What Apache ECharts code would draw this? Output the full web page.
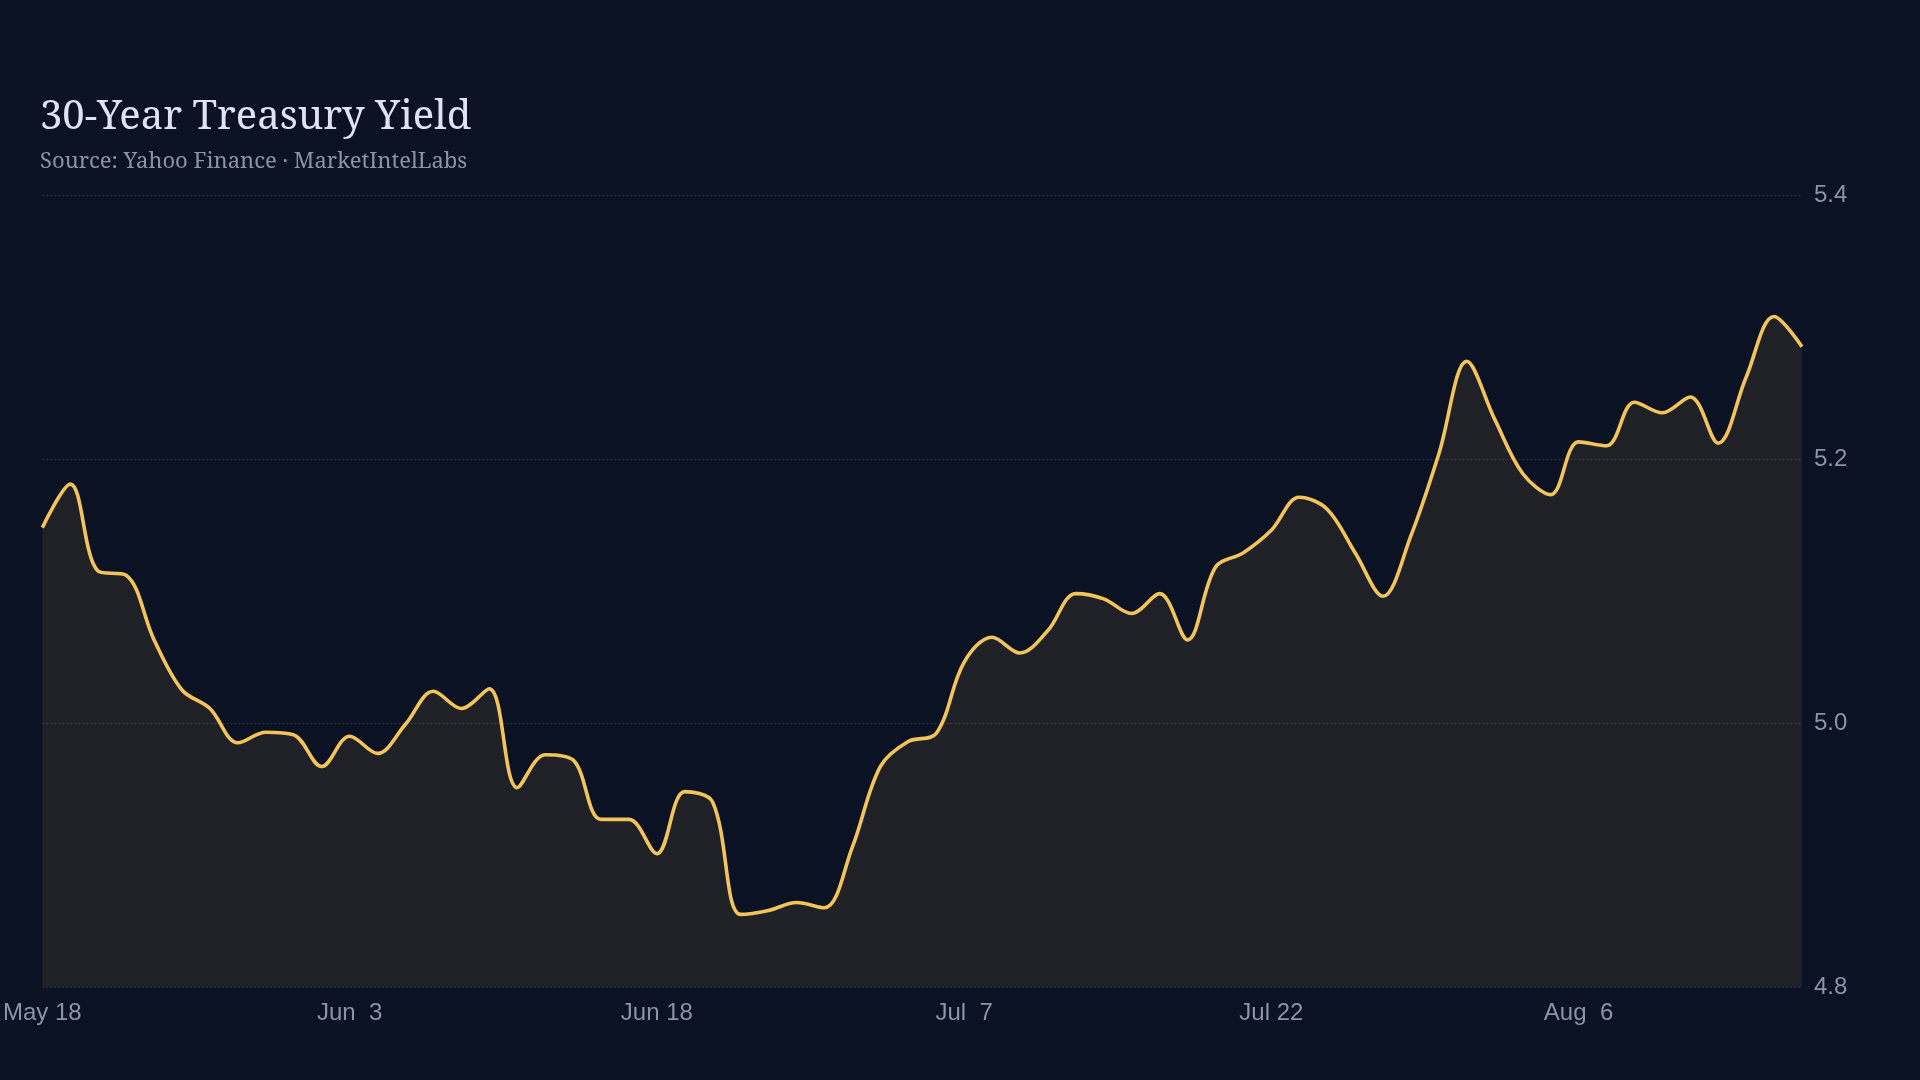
<!DOCTYPE html>
<html>
<head>
<meta charset="utf-8">
<title>30-Year Treasury Yield</title>
<script src="https://cdn.jsdelivr.net/npm/echarts@6/dist/echarts.min.js"></script>
<style>
  html, body { margin: 0; padding: 0; background: #0b1223; }
  #chart { width: 1920px; height: 1080px; }
</style>
</head>
<body>
<div id="chart"></div>
<script>
// trading days, 2026
var dates = [
  "2026-05-18", "2026-05-19", "2026-05-20", "2026-05-21", "2026-05-22",
  "2026-05-26", "2026-05-27", "2026-05-28", "2026-05-29",
  "2026-06-01", "2026-06-02", "2026-06-03", "2026-06-04", "2026-06-05",
  "2026-06-08", "2026-06-09", "2026-06-10", "2026-06-11", "2026-06-12",
  "2026-06-15", "2026-06-16", "2026-06-17", "2026-06-18",
  "2026-06-22", "2026-06-23", "2026-06-24", "2026-06-25", "2026-06-26",
  "2026-06-29", "2026-06-30", "2026-07-01", "2026-07-02",
  "2026-07-06", "2026-07-07", "2026-07-08", "2026-07-09", "2026-07-10",
  "2026-07-13", "2026-07-14", "2026-07-15", "2026-07-16", "2026-07-17",
  "2026-07-20", "2026-07-21", "2026-07-22", "2026-07-23", "2026-07-24",
  "2026-07-27", "2026-07-28", "2026-07-29", "2026-07-30", "2026-07-31",
  "2026-08-03", "2026-08-04", "2026-08-05", "2026-08-06", "2026-08-07",
  "2026-08-10", "2026-08-11", "2026-08-12", "2026-08-13", "2026-08-14",
  "2026-08-17", "2026-08-18"
];

var yields = [
  5.148, 5.181, 5.115, 5.112, 5.063, 5.025, 5.011, 4.985, 4.993, 4.991,
  4.967, 4.990, 4.977, 4.999, 5.024, 5.011, 5.026, 4.951, 4.976, 4.972,
  4.927, 4.927, 4.901, 4.948, 4.940, 4.855, 4.858, 4.864, 4.860, 4.906,
  4.967, 4.986, 4.992, 5.046, 5.065, 5.053, 5.070, 5.098, 5.094, 5.083,
  5.098, 5.063, 5.118, 5.129, 5.146, 5.171, 5.162, 5.129, 5.096, 5.142,
  5.204, 5.274, 5.230, 5.189, 5.173, 5.213, 5.210, 5.243, 5.235, 5.247,
  5.212, 5.262, 5.308, 5.285
];

var yTicks = [4.8, 5.0, 5.2, 5.4];

var monthNames = ["Jan", "Feb", "Mar", "Apr", "May", "Jun",
  "Jul", "Aug", "Sep", "Oct", "Nov", "Dec"];

function formatDate(str) {
  var parts = str.split("-");
  var day = parseInt(parts[2], 10);
  return monthNames[parseInt(parts[1], 10) - 1] + " " + (day < 10 ? " " + day : day);
}

var chart = echarts.init(document.getElementById("chart"));

chart.setOption({
  backgroundColor: "#0b1223",
  animation: false,
  title: {
    text: "30-Year Treasury Yield",
    subtext: "Source: Yahoo Finance \u00b7 MarketIntelLabs",
    left: 35,
    top: 93,
    itemGap: 13,
    textStyle: {
      fontFamily: "'Noto Serif', 'DejaVu Serif', serif",
      fontWeight: "normal",
      fontSize: 40,
      color: "#dde3f4"
    },
    subtextStyle: {
      fontFamily: "'Noto Serif', 'DejaVu Serif', serif",
      fontSize: 22,
      color: "#8a93a8"
    }
  },
  grid: { left: 42, right: 118, top: 195, bottom: 93 },
  xAxis: {
    type: "category",
    data: dates,
    boundaryGap: false,
    axisLine: { show: false },
    axisTick: { show: false },
    splitLine: { show: false },
    axisLabel: {
      interval: 10,
      margin: 14,
      fontFamily: "'Liberation Sans', Arial, sans-serif",
      fontSize: 24,
      color: "#8b93a7",
      formatter: function (v) { return formatDate(v); }
    }
  },
  yAxis: {
    type: "value",
    position: "right",
    min: yTicks[0],
    max: yTicks[yTicks.length - 1],
    interval: 0.2,
    axisLine: { show: false },
    axisTick: { show: false },
    axisLabel: {
      margin: 12,
      fontFamily: "'Liberation Sans', Arial, sans-serif",
      fontSize: 24,
      color: "#8b93a7",
      formatter: function (v) { return v.toFixed(1); }
    },
    splitLine: {
      lineStyle: { color: "#2b3447", width: 1, type: [2, 2] }
    }
  },
  series: [{
    type: "line",
    data: yields,
    smooth: 0.35,
    showSymbol: false,
    lineStyle: { color: "#f2c45a", width: 3.6 },
    areaStyle: { color: "rgba(242, 196, 90, 0.12)", origin: "start" }
  }]
});
</script>
</body>
</html>
